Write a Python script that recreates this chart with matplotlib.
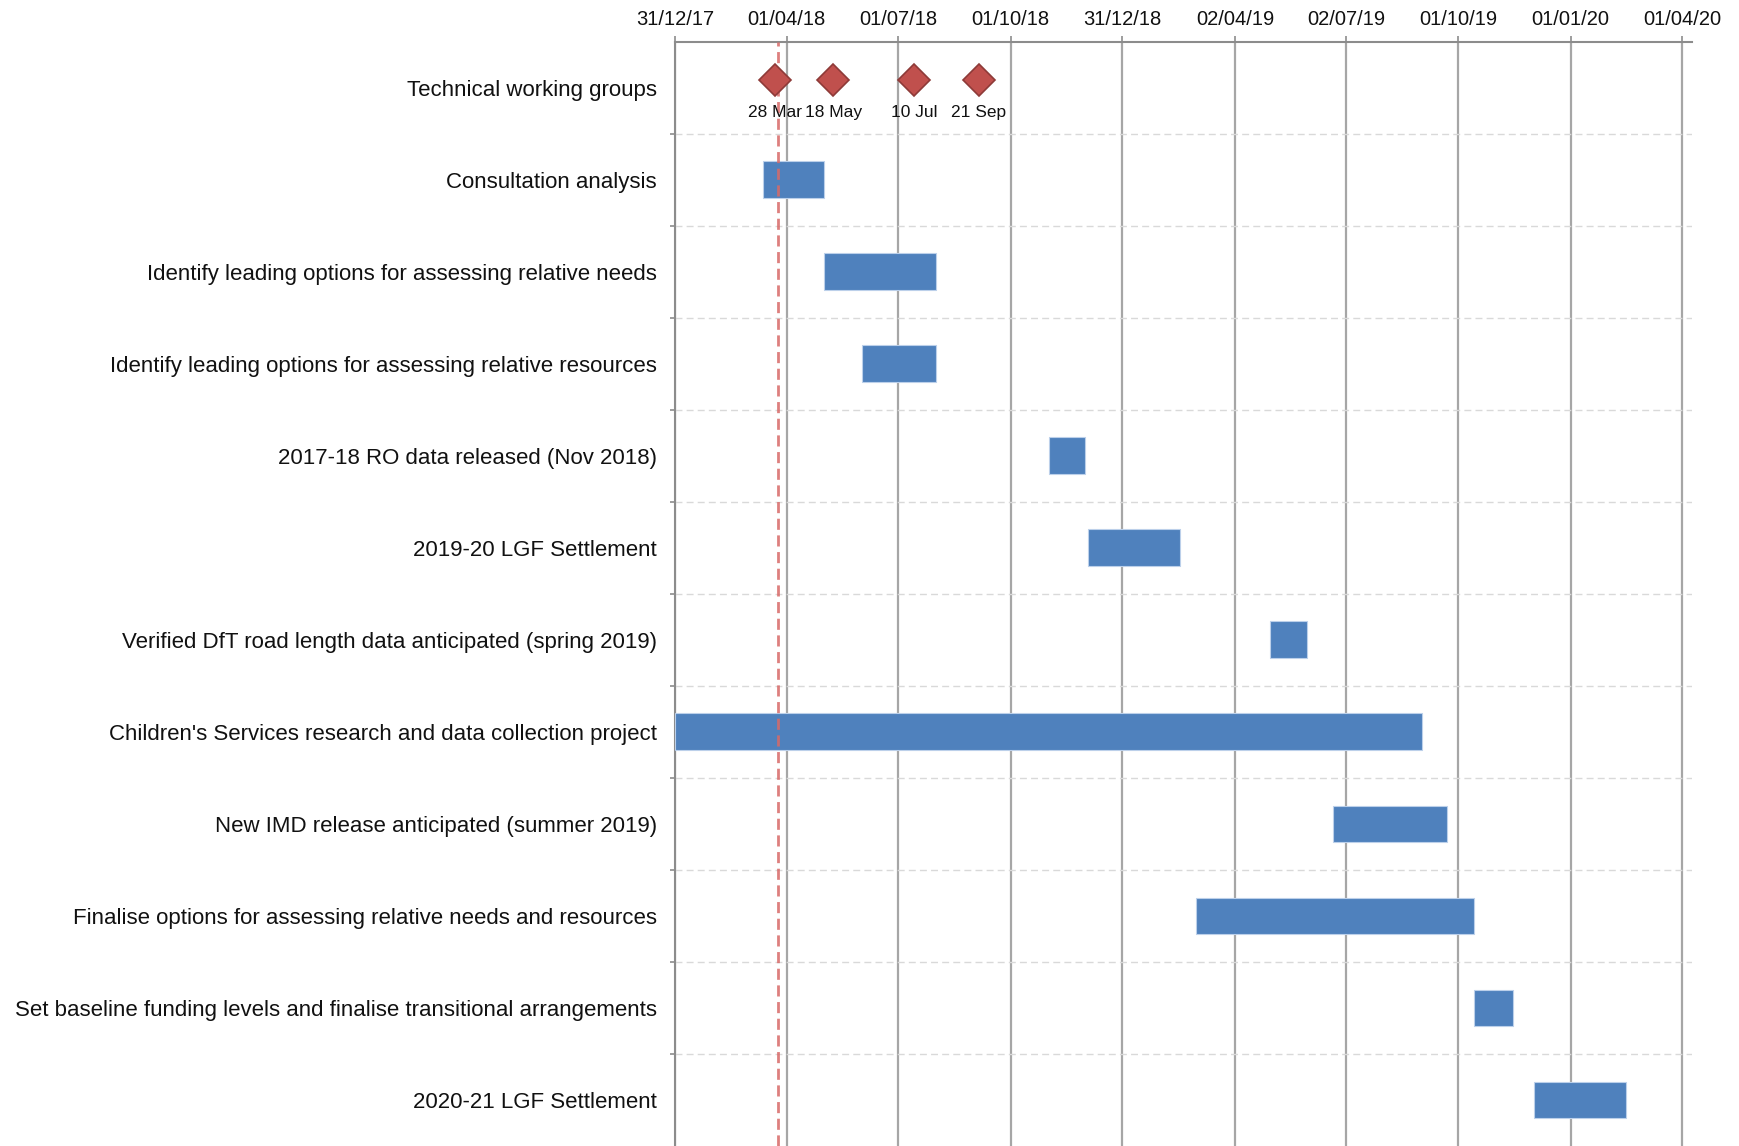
import matplotlib
matplotlib.use("Agg")
import matplotlib.pyplot as plt
import matplotlib.dates as mdates
import pandas as pd

plt.rcParams['font.family'] = ['Liberation Sans', 'DejaVu Sans']

# tarefas (de cima para baixo)
tasks = [
    "Technical working groups",
    "Consultation analysis",
    "Identify leading options for assessing relative needs",
    "Identify leading options for assessing relative resources",
    "2017-18 RO data released (Nov 2018)",
    "2019-20 LGF Settlement",
    "Verified DfT road length data anticipated (spring 2019)",
    "Children's Services research and data collection project",
    "New IMD release anticipated (summer 2019)",
    "Finalise options for assessing relative needs and resources",
    "Set baseline funding levels and finalise transitional arrangements",
    "2020-21 LGF Settlement",
]
bar_rows = [1, 2, 3, 4, 5, 6, 7, 8, 9, 10, 11]
bar_starts = ["2018-03-13", "2018-05-02", "2018-06-02", "2018-11-01", "2018-12-03",
              "2019-05-01", "2017-12-31", "2019-06-21", "2019-03-01", "2019-10-14",
              "2019-12-02"]
bar_ends = ["2018-05-02", "2018-08-01", "2018-08-01", "2018-12-01", "2019-02-16",
            "2019-05-31", "2019-09-02", "2019-09-22", "2019-10-14", "2019-11-15",
            "2020-02-15"]

# marcos do grupo técnico
milestone_dates = ["2018-03-23", "2018-05-09", "2018-07-14", "2018-09-05"]
milestone_labels = ["28 Mar", "18 May", "10 Jul", "21 Sep"]

today = "2018-03-25"

tick_dates = ["2017-12-31", "2018-04-01", "2018-07-01", "2018-10-01", "2018-12-31",
              "2019-04-02", "2019-07-02", "2019-10-01", "2020-01-01", "2020-04-01"]
x_min, x_max = "2017-12-31", "2020-04-09"

W, H = 1740, 1146
fig = plt.figure(figsize=(W / 100, H / 100), dpi=100)
ax = fig.add_axes([675 / W, 0, (1692 - 675) / W, (H - 41.7) / H])

s = mdates.date2num(pd.to_datetime(bar_starts))
e = mdates.date2num(pd.to_datetime(bar_ends))
ax.barh(bar_rows, e - s, left=s, height=0.4, color='#4F81BD',
        edgecolor='#BCD0EA', linewidth=0.8, zorder=3)

# linha de hoje
ax.axvline(mdates.date2num(pd.Timestamp(today)), color='#D86A68', lw=2,
           ls=(0, (4, 2)), alpha=0.85, zorder=4)

m = mdates.date2num(pd.to_datetime(milestone_dates))
ax.plot(m, [-0.08] * len(m), ls='none', marker='D', markersize=16,
        markerfacecolor='#C0504D', markeredgecolor='#8E3A38',
        markeredgewidth=1.2, zorder=5)
for xm, lab in zip(m, milestone_labels):
    ax.text(xm, 0.27, lab, ha='center', va='center', fontsize=12.5,
            color='#111111', zorder=6)

ax.set_xlim(mdates.date2num(pd.Timestamp(x_min)), mdates.date2num(pd.Timestamp(x_max)))
ax.set_ylim(len(tasks) - 0.5, -0.5)

ax.xaxis.tick_top()
ax.set_xticks(mdates.date2num(pd.to_datetime(tick_dates)))
ax.xaxis.set_major_formatter(mdates.DateFormatter('%d/%m/%y'))
ax.tick_params(axis='x', which='major', direction='out', length=4.3, width=1.2,
               color='#8C8C8C', labelsize=14.5, pad=4.5, labelcolor='#111111')

ax.set_yticks([i + 0.5 for i in range(len(tasks) - 1)])
ax.set_yticklabels([])
ax.set_yticks(range(len(tasks)), minor=True)
ax.set_yticklabels(tasks, minor=True)
ax.tick_params(axis='y', which='major', direction='out', length=3.6, width=1.2,
               color='#8C8C8C')
ax.tick_params(axis='y', which='minor', length=0, pad=13, labelsize=16,
               labelcolor='#111111')

ax.grid(axis='x', color='#A6A6A6', lw=1.6, zorder=1)
ax.grid(axis='y', which='major', color='#D9D9D9', lw=1, ls=(0, (5, 3)), zorder=1)
ax.set_axisbelow(True)

for side in ['right', 'bottom']:
    ax.spines[side].set_visible(False)
for side in ['top', 'left']:
    ax.spines[side].set_color('#8C8C8C')
    ax.spines[side].set_linewidth(1.5)

plt.savefig("out.png", dpi=100)
